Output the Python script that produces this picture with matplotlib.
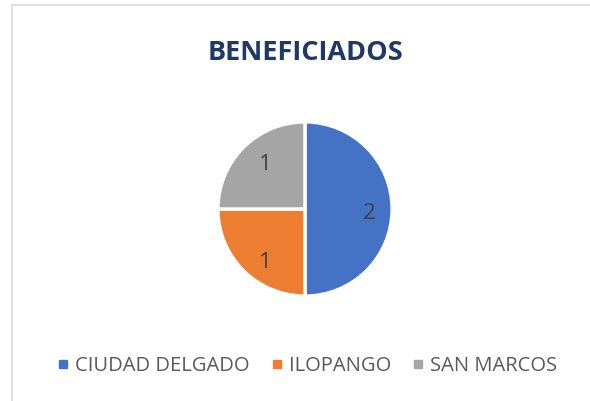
import matplotlib.pyplot as plt
from matplotlib.lines import Line2D

labels = ["CIUDAD DELGADO", "ILOPANGO", "SAN MARCOS"]
values = [2, 1, 1]
colors = ["#4472C4", "#ED7D31", "#A5A5A5"]

plt.rcParams['font.family'] = ['Open Sans', 'DejaVu Sans']

W, H = 590, 401
fig = plt.figure(figsize=(W / 100, H / 100), dpi=100)

# chart border (only top and left visible)
fig.add_artist(Line2D([12 / W, 12 / W], [0, 1 - 5 / H], color="#D9D9D9", lw=1.2))
fig.add_artist(Line2D([12 / W, 1], [1 - 5 / H, 1 - 5 / H], color="#D9D9D9", lw=1.2))

fig.text(305 / W, 1 - 52.5 / H, "BENEFICIADOS", ha="center", va="center",
         fontsize=19.5, fontweight="bold", color="#1F3864")

cx, cy, r = 305, 209, 88
ax = fig.add_axes([(cx - r) / W, (H - cy - r) / H, 2 * r / W, 2 * r / H])
wedges, texts = ax.pie(values, colors=colors, startangle=90, counterclock=False,
                       labels=[str(v) for v in values], labeldistance=0.73,
                       wedgeprops=dict(edgecolor="white", linewidth=2.5),
                       textprops=dict(fontsize=16, color="#404040"))
# Excel-like label placement (radius units)
label_pos = [(0.74, -0.02), (-0.46, -0.58), (-0.46, 0.535)]
for t, (lx, ly) in zip(texts, label_pos):
    t.set_position((lx, ly))
    t.set_ha("center")
    t.set_va("center_baseline")
ax.set_xlim(-1.01, 1.01)
ax.set_ylim(-1.01, 1.01)
ax.set_aspect("equal")
ax.axis("off")

handles = [Line2D([], [], marker="s", ls="", markersize=6, color=c) for c in colors]
fig.legend(handles, labels, loc="center", bbox_to_anchor=(305 / W, 1 - 366 / H),
           ncol=3, frameon=False, fontsize=14.5, labelcolor="#595959",
           handletextpad=0.1, columnspacing=0.85, handlelength=1.0)

fig.savefig("out.png", dpi=100)
